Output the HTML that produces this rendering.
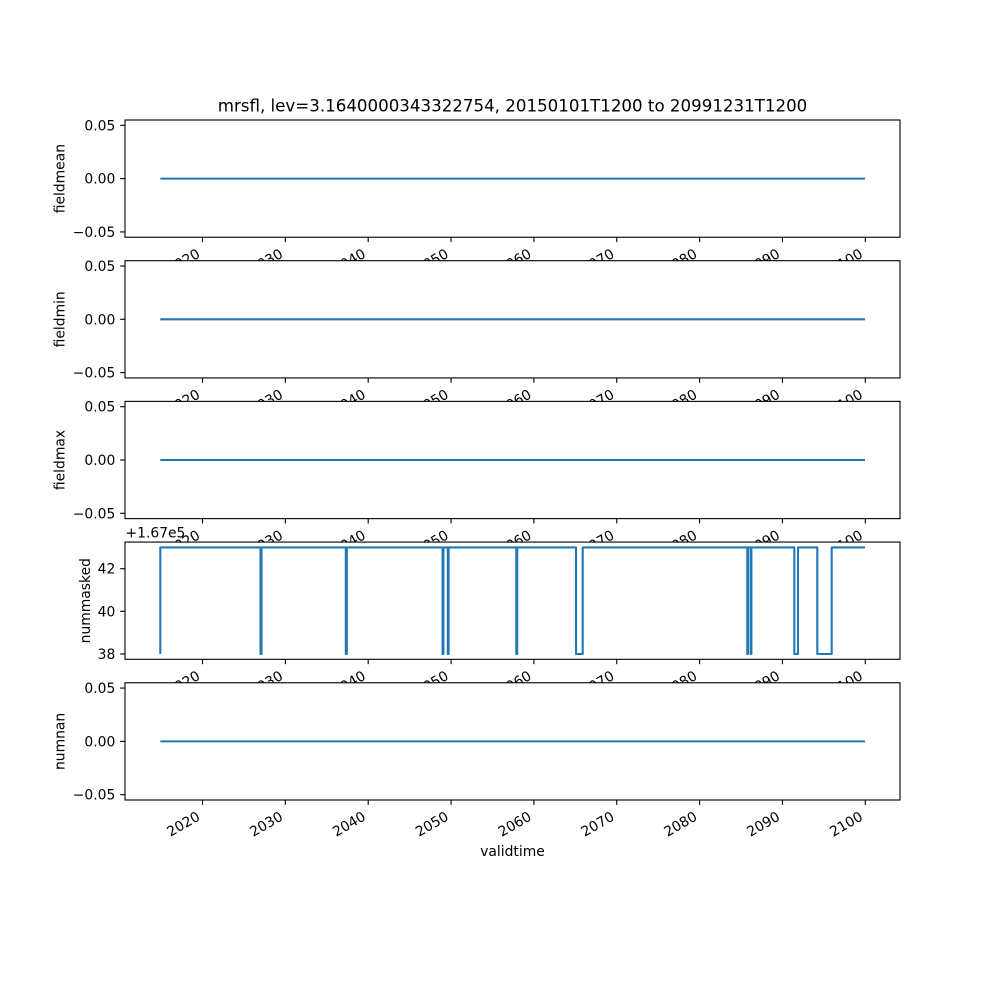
<!DOCTYPE html>
<html><head><meta charset="utf-8"><style>
html,body{margin:0;padding:0;background:#fff;}
svg{display:block;}
text{font-family:"DejaVu Sans","Liberation Sans",sans-serif;fill:#000;}
</style></head><body>
<svg xmlns="http://www.w3.org/2000/svg" width="1000" height="1000" viewBox="0 0 1000 1000">
<rect width="1000" height="1000" fill="#fff"/>
<text x="512.5" y="111.7" font-size="16.67" text-anchor="middle">mrsfl, lev=3.1640000343322754, 20150101T1200 to 20991231T1200</text>

<!-- Panel 1 -->
<g>
<rect x="125" y="120" width="775" height="117.24" fill="#fff"/>
<line x1="160.3" y1="178.62" x2="865" y2="178.62" stroke="#1f77b4" stroke-width="2.08"/>
<rect x="125" y="120" width="775" height="117.24" fill="none" stroke="#000" stroke-width="1.11"/>
<g stroke="#000" stroke-width="1.11">
<line x1="125" y1="125.33" x2="120.14" y2="125.33"/><line x1="125" y1="178.62" x2="120.14" y2="178.62"/><line x1="125" y1="231.91" x2="120.14" y2="231.91"/>
<line x1="202.5" y1="237.24" x2="202.5" y2="242.1"/><line x1="285.35" y1="237.24" x2="285.35" y2="242.1"/><line x1="368.2" y1="237.24" x2="368.2" y2="242.1"/><line x1="451.05" y1="237.24" x2="451.05" y2="242.1"/><line x1="533.9" y1="237.24" x2="533.9" y2="242.1"/><line x1="616.75" y1="237.24" x2="616.75" y2="242.1"/><line x1="699.6" y1="237.24" x2="699.6" y2="242.1"/><line x1="782.45" y1="237.24" x2="782.45" y2="242.1"/><line x1="865.3" y1="237.24" x2="865.3" y2="242.1"/>
</g>
<g font-size="13.89" text-anchor="end">
<text x="115.3" y="130.33">0.05</text><text x="115.3" y="183.62">0.00</text><text x="115.3" y="236.91">−0.05</text>
</g>
<g font-size="13.89" text-anchor="end">
<text x="201" y="256.54" transform="rotate(-30 201 256.54)">2020</text>
<text x="283.85" y="256.54" transform="rotate(-30 283.85 256.54)">2030</text>
<text x="366.7" y="256.54" transform="rotate(-30 366.7 256.54)">2040</text>
<text x="449.55" y="256.54" transform="rotate(-30 449.55 256.54)">2050</text>
<text x="532.4" y="256.54" transform="rotate(-30 532.4 256.54)">2060</text>
<text x="615.25" y="256.54" transform="rotate(-30 615.25 256.54)">2070</text>
<text x="698.1" y="256.54" transform="rotate(-30 698.1 256.54)">2080</text>
<text x="780.95" y="256.54" transform="rotate(-30 780.95 256.54)">2090</text>
<text x="863.8" y="256.54" transform="rotate(-30 863.8 256.54)">2100</text>
</g>
<text x="64.3" y="178.62" font-size="13.89" text-anchor="middle" transform="rotate(-90 64.3 178.62)">fieldmean</text>
</g>

<!-- Panel 2 -->
<g>
<rect x="125" y="260.69" width="775" height="117.24" fill="#fff"/>
<line x1="160.3" y1="319.31" x2="865" y2="319.31" stroke="#1f77b4" stroke-width="2.08"/>
<rect x="125" y="260.69" width="775" height="117.24" fill="none" stroke="#000" stroke-width="1.11"/>
<g stroke="#000" stroke-width="1.11">
<line x1="125" y1="266.02" x2="120.14" y2="266.02"/><line x1="125" y1="319.31" x2="120.14" y2="319.31"/><line x1="125" y1="372.6" x2="120.14" y2="372.6"/>
<line x1="202.5" y1="377.93" x2="202.5" y2="382.79"/><line x1="285.35" y1="377.93" x2="285.35" y2="382.79"/><line x1="368.2" y1="377.93" x2="368.2" y2="382.79"/><line x1="451.05" y1="377.93" x2="451.05" y2="382.79"/><line x1="533.9" y1="377.93" x2="533.9" y2="382.79"/><line x1="616.75" y1="377.93" x2="616.75" y2="382.79"/><line x1="699.6" y1="377.93" x2="699.6" y2="382.79"/><line x1="782.45" y1="377.93" x2="782.45" y2="382.79"/><line x1="865.3" y1="377.93" x2="865.3" y2="382.79"/>
</g>
<g font-size="13.89" text-anchor="end">
<text x="115.3" y="271.02">0.05</text><text x="115.3" y="324.31">0.00</text><text x="115.3" y="377.6">−0.05</text>
</g>
<g font-size="13.89" text-anchor="end">
<text x="201" y="397.23" transform="rotate(-30 201 397.23)">2020</text>
<text x="283.85" y="397.23" transform="rotate(-30 283.85 397.23)">2030</text>
<text x="366.7" y="397.23" transform="rotate(-30 366.7 397.23)">2040</text>
<text x="449.55" y="397.23" transform="rotate(-30 449.55 397.23)">2050</text>
<text x="532.4" y="397.23" transform="rotate(-30 532.4 397.23)">2060</text>
<text x="615.25" y="397.23" transform="rotate(-30 615.25 397.23)">2070</text>
<text x="698.1" y="397.23" transform="rotate(-30 698.1 397.23)">2080</text>
<text x="780.95" y="397.23" transform="rotate(-30 780.95 397.23)">2090</text>
<text x="863.8" y="397.23" transform="rotate(-30 863.8 397.23)">2100</text>
</g>
<text x="64.3" y="319.31" font-size="13.89" text-anchor="middle" transform="rotate(-90 64.3 319.31)">fieldmin</text>
</g>

<!-- Panel 3 -->
<g>
<rect x="125" y="401.38" width="775" height="117.24" fill="#fff"/>
<line x1="160.3" y1="460" x2="865" y2="460" stroke="#1f77b4" stroke-width="2.08"/>
<rect x="125" y="401.38" width="775" height="117.24" fill="none" stroke="#000" stroke-width="1.11"/>
<g stroke="#000" stroke-width="1.11">
<line x1="125" y1="406.71" x2="120.14" y2="406.71"/><line x1="125" y1="460" x2="120.14" y2="460"/><line x1="125" y1="513.29" x2="120.14" y2="513.29"/>
<line x1="202.5" y1="518.62" x2="202.5" y2="523.48"/><line x1="285.35" y1="518.62" x2="285.35" y2="523.48"/><line x1="368.2" y1="518.62" x2="368.2" y2="523.48"/><line x1="451.05" y1="518.62" x2="451.05" y2="523.48"/><line x1="533.9" y1="518.62" x2="533.9" y2="523.48"/><line x1="616.75" y1="518.62" x2="616.75" y2="523.48"/><line x1="699.6" y1="518.62" x2="699.6" y2="523.48"/><line x1="782.45" y1="518.62" x2="782.45" y2="523.48"/><line x1="865.3" y1="518.62" x2="865.3" y2="523.48"/>
</g>
<g font-size="13.89" text-anchor="end">
<text x="115.3" y="411.71">0.05</text><text x="115.3" y="465">0.00</text><text x="115.3" y="518.29">−0.05</text>
</g>
<g font-size="13.89" text-anchor="end">
<text x="201" y="537.92" transform="rotate(-30 201 537.92)">2020</text>
<text x="283.85" y="537.92" transform="rotate(-30 283.85 537.92)">2030</text>
<text x="366.7" y="537.92" transform="rotate(-30 366.7 537.92)">2040</text>
<text x="449.55" y="537.92" transform="rotate(-30 449.55 537.92)">2050</text>
<text x="532.4" y="537.92" transform="rotate(-30 532.4 537.92)">2060</text>
<text x="615.25" y="537.92" transform="rotate(-30 615.25 537.92)">2070</text>
<text x="698.1" y="537.92" transform="rotate(-30 698.1 537.92)">2080</text>
<text x="780.95" y="537.92" transform="rotate(-30 780.95 537.92)">2090</text>
<text x="863.8" y="537.92" transform="rotate(-30 863.8 537.92)">2100</text>
</g>
<text x="64.3" y="460" font-size="13.89" text-anchor="middle" transform="rotate(-90 64.3 460)">fieldmax</text>
</g>

<!-- Panel 4 -->
<g>
<rect x="125" y="542.07" width="775" height="117.24" fill="#fff"/>
<path d="M160.3,654 V547.4 H260.5 V654 H261.5 V547.4 H345.8 V654 H346.8 V547.4 H442.6 V654 H443.4 V547.4 H447.8 V654 H448.6 V547.4 H516.3 V654 H517.2 V547.4 H576 V654 H582.7 V547.4 H747.3 V654 H748 V547.4 H750.7 V654 H751.4 V547.4 H794.3 V654 H798 V547.4 H817.3 V654 H831.7 V547.4 H865" fill="none" stroke="#1f77b4" stroke-width="2.08" stroke-linejoin="round"/>
<rect x="125" y="542.07" width="775" height="117.24" fill="none" stroke="#000" stroke-width="1.11"/>
<g stroke="#000" stroke-width="1.11">
<line x1="125" y1="568.7" x2="120.14" y2="568.7"/><line x1="125" y1="611.33" x2="120.14" y2="611.33"/><line x1="125" y1="653.98" x2="120.14" y2="653.98"/>
<line x1="202.5" y1="659.31" x2="202.5" y2="664.17"/><line x1="285.35" y1="659.31" x2="285.35" y2="664.17"/><line x1="368.2" y1="659.31" x2="368.2" y2="664.17"/><line x1="451.05" y1="659.31" x2="451.05" y2="664.17"/><line x1="533.9" y1="659.31" x2="533.9" y2="664.17"/><line x1="616.75" y1="659.31" x2="616.75" y2="664.17"/><line x1="699.6" y1="659.31" x2="699.6" y2="664.17"/><line x1="782.45" y1="659.31" x2="782.45" y2="664.17"/><line x1="865.3" y1="659.31" x2="865.3" y2="664.17"/>
</g>
<g font-size="13.89" text-anchor="end">
<text x="115.3" y="573.7">42</text><text x="115.3" y="616.33">40</text><text x="115.3" y="658.98">38</text>
</g>
<text x="125.5" y="537.5" font-size="13.89">+1.67e5</text>
<g font-size="13.89" text-anchor="end">
<text x="201" y="678.61" transform="rotate(-30 201 678.61)">2020</text>
<text x="283.85" y="678.61" transform="rotate(-30 283.85 678.61)">2030</text>
<text x="366.7" y="678.61" transform="rotate(-30 366.7 678.61)">2040</text>
<text x="449.55" y="678.61" transform="rotate(-30 449.55 678.61)">2050</text>
<text x="532.4" y="678.61" transform="rotate(-30 532.4 678.61)">2060</text>
<text x="615.25" y="678.61" transform="rotate(-30 615.25 678.61)">2070</text>
<text x="698.1" y="678.61" transform="rotate(-30 698.1 678.61)">2080</text>
<text x="780.95" y="678.61" transform="rotate(-30 780.95 678.61)">2090</text>
<text x="863.8" y="678.61" transform="rotate(-30 863.8 678.61)">2100</text>
</g>
<text x="90" y="600.69" font-size="13.89" text-anchor="middle" transform="rotate(-90 90 600.69)">nummasked</text>
</g>

<!-- Panel 5 -->
<g>
<rect x="125" y="682.76" width="775" height="117.24" fill="#fff"/>
<line x1="160.3" y1="741.38" x2="865" y2="741.38" stroke="#1f77b4" stroke-width="2.08"/>
<rect x="125" y="682.76" width="775" height="117.24" fill="none" stroke="#000" stroke-width="1.11"/>
<g stroke="#000" stroke-width="1.11">
<line x1="125" y1="688.09" x2="120.14" y2="688.09"/><line x1="125" y1="741.38" x2="120.14" y2="741.38"/><line x1="125" y1="794.67" x2="120.14" y2="794.67"/>
<line x1="202.5" y1="800" x2="202.5" y2="804.86"/><line x1="285.35" y1="800" x2="285.35" y2="804.86"/><line x1="368.2" y1="800" x2="368.2" y2="804.86"/><line x1="451.05" y1="800" x2="451.05" y2="804.86"/><line x1="533.9" y1="800" x2="533.9" y2="804.86"/><line x1="616.75" y1="800" x2="616.75" y2="804.86"/><line x1="699.6" y1="800" x2="699.6" y2="804.86"/><line x1="782.45" y1="800" x2="782.45" y2="804.86"/><line x1="865.3" y1="800" x2="865.3" y2="804.86"/>
</g>
<g font-size="13.89" text-anchor="end">
<text x="115.3" y="693.09">0.05</text><text x="115.3" y="746.38">0.00</text><text x="115.3" y="799.67">−0.05</text>
</g>
<g font-size="13.89" text-anchor="end">
<text x="201" y="819.3" transform="rotate(-30 201 819.3)">2020</text>
<text x="283.85" y="819.3" transform="rotate(-30 283.85 819.3)">2030</text>
<text x="366.7" y="819.3" transform="rotate(-30 366.7 819.3)">2040</text>
<text x="449.55" y="819.3" transform="rotate(-30 449.55 819.3)">2050</text>
<text x="532.4" y="819.3" transform="rotate(-30 532.4 819.3)">2060</text>
<text x="615.25" y="819.3" transform="rotate(-30 615.25 819.3)">2070</text>
<text x="698.1" y="819.3" transform="rotate(-30 698.1 819.3)">2080</text>
<text x="780.95" y="819.3" transform="rotate(-30 780.95 819.3)">2090</text>
<text x="863.8" y="819.3" transform="rotate(-30 863.8 819.3)">2100</text>
</g>
<text x="64.3" y="741.38" font-size="13.89" text-anchor="middle" transform="rotate(-90 64.3 741.38)">numnan</text>
<text x="512.5" y="856" font-size="13.89" text-anchor="middle">validtime</text>
</g>
</svg>
</body></html>
